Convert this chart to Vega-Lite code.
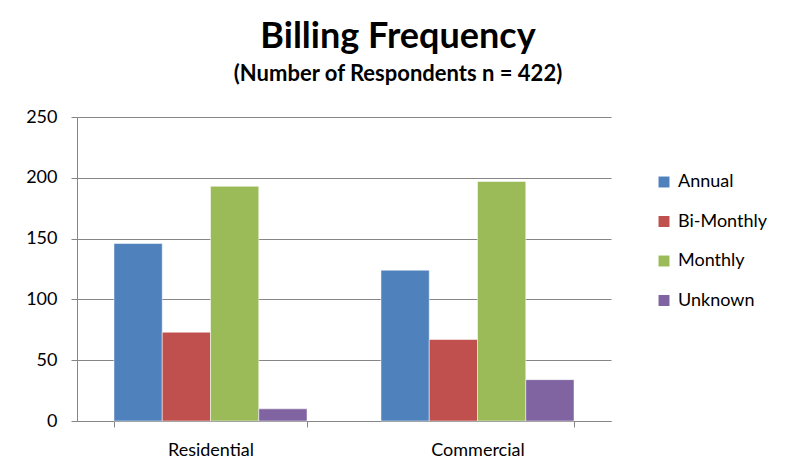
{
  "$schema": "https://vega.github.io/schema/vega-lite/v6.json",
  "width": 534,
  "height": 304,
  "autosize": {"type": "none"},
  "padding": {"left": 77, "top": 117, "right": 182, "bottom": 50},
  "background": "white",
  "title": {
    "text": "Billing Frequency",
    "subtitle": "(Number of Respondents  n = 422)",
    "anchor": "middle",
    "dx": 54,
    "font": "Lato",
    "fontSize": 36,
    "fontWeight": "bold",
    "color": "black",
    "subtitleFont": "Lato",
    "subtitleFontSize": 22,
    "subtitleFontWeight": "bold",
    "subtitleColor": "black",
    "subtitlePadding": 8,
    "offset": 22
  },
  "data": {
    "values": [
      {"sector": "Residential", "frequency": "Annual", "count": 146},
      {"sector": "Residential", "frequency": "Bi-Monthly", "count": 73},
      {"sector": "Residential", "frequency": "Monthly", "count": 193},
      {"sector": "Residential", "frequency": "Unknown", "count": 10},
      {"sector": "Commercial", "frequency": "Annual", "count": 124},
      {"sector": "Commercial", "frequency": "Bi-Monthly", "count": 67},
      {"sector": "Commercial", "frequency": "Monthly", "count": 197},
      {"sector": "Commercial", "frequency": "Unknown", "count": 34}
    ]
  },
  "mark": {"type": "bar", "stroke": "white", "strokeWidth": 0.5},
  "encoding": {
    "x": {
      "field": "sector",
      "type": "nominal",
      "sort": ["Residential", "Commercial"],
      "scale": {"paddingInner": 0.277, "paddingOuter": 0.1385},
      "axis": {
        "title": null,
        "labelAngle": 0,
        "tickBand": "extent",
        "labelFont": "Lato",
        "labelFontSize": 18,
        "labelColor": "black",
        "labelPadding": 14,
        "domainColor": "#868686",
        "tickColor": "#868686",
        "tickSize": 6
      }
    },
    "xOffset": {
      "field": "frequency",
      "type": "nominal",
      "sort": ["Annual", "Bi-Monthly", "Monthly", "Unknown"],
      "scale": {"paddingInner": 0, "paddingOuter": 0}
    },
    "y": {
      "field": "count",
      "type": "quantitative",
      "scale": {"domain": [0, 250]},
      "axis": {
        "title": null,
        "values": [0, 50, 100, 150, 200, 250],
        "labelFont": "Lato",
        "labelFontSize": 18,
        "labelColor": "black",
        "labelPadding": 14,
        "domainColor": "#868686",
        "tickColor": "#868686",
        "tickSize": 6,
        "gridColor": "#868686",
        "gridWidth": 1
      }
    },
    "color": {
      "field": "frequency",
      "type": "nominal",
      "sort": ["Annual", "Bi-Monthly", "Monthly", "Unknown"],
      "scale": {
        "domain": ["Annual", "Bi-Monthly", "Monthly", "Unknown"],
        "range": ["#4F81BD", "#C0504D", "#9BBB59", "#8064A2"]
      },
      "legend": {
        "title": null,
        "orient": "none",
        "legendX": 578,
        "legendY": 56,
        "symbolType": "square",
        "symbolSize": 120,
        "symbolStrokeWidth": 0,
        "labelFont": "Lato",
        "labelFontSize": 18,
        "labelColor": "black",
        "labelOffset": 5,
        "rowPadding": 21.5
      }
    }
  },
  "config": {
    "view": {"stroke": null}
  }
}
